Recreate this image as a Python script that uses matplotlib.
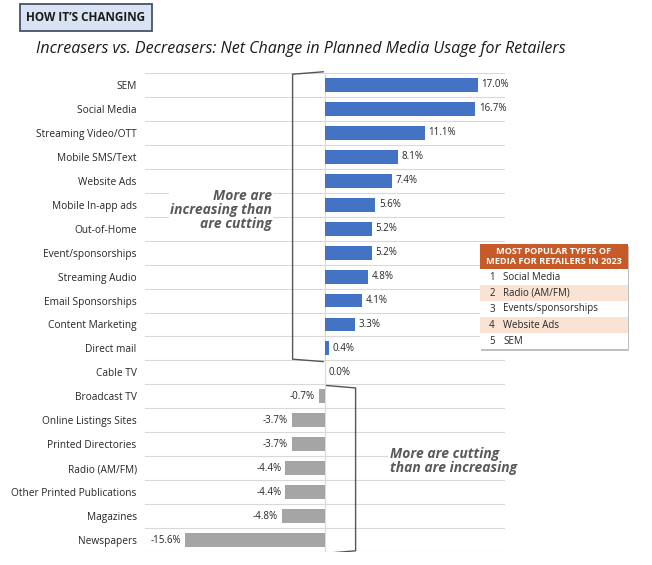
import matplotlib
import matplotlib.pyplot as plt
from matplotlib.patches import Rectangle, FancyBboxPatch
import numpy as np

matplotlib.use("Agg")
plt.rcParams["font.family"] = ["Open Sans", "DejaVu Sans"]

categories = ["SEM", "Social Media", "Streaming Video/OTT", "Mobile SMS/Text",
              "Website Ads", "Mobile In-app ads", "Out-of-Home",
              "Event/sponsorships", "Streaming Audio", "Email Sponsorships",
              "Content Marketing", "Direct mail", "Cable TV", "Broadcast TV",
              "Online Listings Sites", "Printed Directories", "Radio (AM/FM)",
              "Other Printed Publications", "Magazines", "Newspapers"]
# Cable TV is 0.0, Newspapers the last row
values = [17.0, 16.7, 11.1, 8.1, 7.4, 5.6, 5.2, 5.2, 4.8, 4.1, 3.3, 0.4, 0.0,
          -0.7, -3.7, -3.7, -4.4, -4.4, -4.8, -15.6]

popular_rank = ["1", "2", "3", "4", "5"]
popular_media = ["Social Media", "Radio (AM/FM)", "Events/sponsorships",
                 "Website Ads", "SEM"]

blue = "#4472C4"
gray = "#A5A5A5"
txt = "#262626"

fig = plt.figure(figsize=(6.52, 5.65), dpi=100)
ax = fig.add_axes([145 / 652, 1 - 552 / 565, 360 / 652, (552 - 73) / 565])

n = len(categories)
y = np.arange(n)
colors = [blue if v > 0 else gray for v in values]
ax.barh(y, values, height=0.58, color=colors, zorder=3)

for yi, v in zip(y, values):
    if v >= 0:
        ax.text(v + 0.4, yi, f"{v:.1f}%", va="center", ha="left",
                fontsize=7, color=txt, zorder=4)
    else:
        ax.text(v - 0.4, yi, f"{v:.1f}%", va="center", ha="right",
                fontsize=7, color=txt, zorder=4)

ax.set_xlim(-20, 20)
ax.set_ylim(n - 0.5, -0.5)
ax.set_yticks(y)
ax.set_yticklabels(categories, fontsize=7.3, color=txt)
ax.tick_params(axis="y", length=0, pad=6)
ax.set_xticks([])
for s in ax.spines.values():
    s.set_visible(False)

# row separators and zero line
for yb in np.arange(-0.5, n, 1.0):
    ax.axhline(yb, color="#d9d9d9", lw=0.8, zorder=1)
ax.axvline(0, color="#d9d9d9", lw=0.8, zorder=2)

# brackets
bx1 = -3.6
ax.plot([-0.2, bx1, bx1, -0.2], [-0.55, -0.45, 11.45, 11.55],
        color="#555555", lw=1.0, zorder=4, clip_on=False)
bx2 = 3.4
ax.plot([0.2, bx2, bx2, 0.2], [12.55, 12.65, 19.45, 19.55],
        color="#555555", lw=1.0, zorder=4)

ax.text(-5.9, 5.2, "More are\nincreasing than\nare cutting", ha="right",
        va="center", fontsize=10, fontweight="bold", style="italic",
        color="#595959", linespacing=1.0, zorder=5,
        bbox=dict(facecolor="white", edgecolor="none", pad=1))
ax.text(7.2, 15.7, "More are cutting\nthan are increasing", ha="left",
        va="center", fontsize=10, fontweight="bold", style="italic",
        color="#595959", linespacing=1.0, zorder=5,
        bbox=dict(facecolor="white", edgecolor="none", pad=1))

# header box
hb = FancyBboxPatch((20 / 652, 1 - 31 / 565), 132 / 652, 27 / 565,
                    boxstyle="square,pad=0", transform=fig.transFigure,
                    facecolor="#dae3f3", edgecolor="#44546a", lw=1.3)
fig.patches.append(hb)
fig.text(86 / 652, 1 - 17.5 / 565, "HOW IT\u2019S CHANGING", ha="center",
         va="center", fontsize=8.5, fontweight="bold", color="#1a1a1a")
fig.text(36 / 652, 1 - 49 / 565,
         "Increasers vs. Decreasers: Net Change in Planned Media Usage for Retailers",
         ha="left", va="center", fontsize=11.5, style="italic", color="#1a1a1a")

# table of most popular types
tx0, tx1 = 480, 628
ty0, head_h, row_h = 244, 25, 16
tw = (tx1 - tx0) / 652
shadow = Rectangle((tx0 / 652 + 0.002, 1 - (ty0 + head_h + 5 * row_h + 2) / 565),
                   tw, (head_h + 5 * row_h) / 565, transform=fig.transFigure,
                   facecolor="#bfbfbf", edgecolor="none", zorder=5)
fig.patches.append(shadow)
head = Rectangle((tx0 / 652, 1 - (ty0 + head_h) / 565), tw, head_h / 565,
                 transform=fig.transFigure, facecolor="#c65a28",
                 edgecolor="none", zorder=6)
fig.patches.append(head)
fig.text((tx0 + tx1) / 2 / 652, 1 - (ty0 + head_h / 2) / 565,
         "MOST POPULAR TYPES OF\nMEDIA FOR RETAILERS IN 2023", ha="center",
         va="center", fontsize=6.6, fontweight="bold", color="white",
         linespacing=1.05, zorder=7)
for i, (r, m) in enumerate(zip(popular_rank, popular_media)):
    top = ty0 + head_h + i * row_h
    fc = "#fbe3d3" if i % 2 == 1 else "white"
    cell = Rectangle((tx0 / 652, 1 - (top + row_h) / 565), tw, row_h / 565,
                     transform=fig.transFigure, facecolor=fc,
                     edgecolor="none", zorder=6)
    fig.patches.append(cell)
    fig.text((tx0 + 12) / 652, 1 - (top + row_h / 2) / 565, r, ha="center",
             va="center", fontsize=7, color=txt, zorder=7)
    fig.text((tx0 + 23) / 652, 1 - (top + row_h / 2) / 565, m, ha="left",
             va="center", fontsize=7, color=txt, zorder=7)

fig.savefig("out.png", dpi=100)
